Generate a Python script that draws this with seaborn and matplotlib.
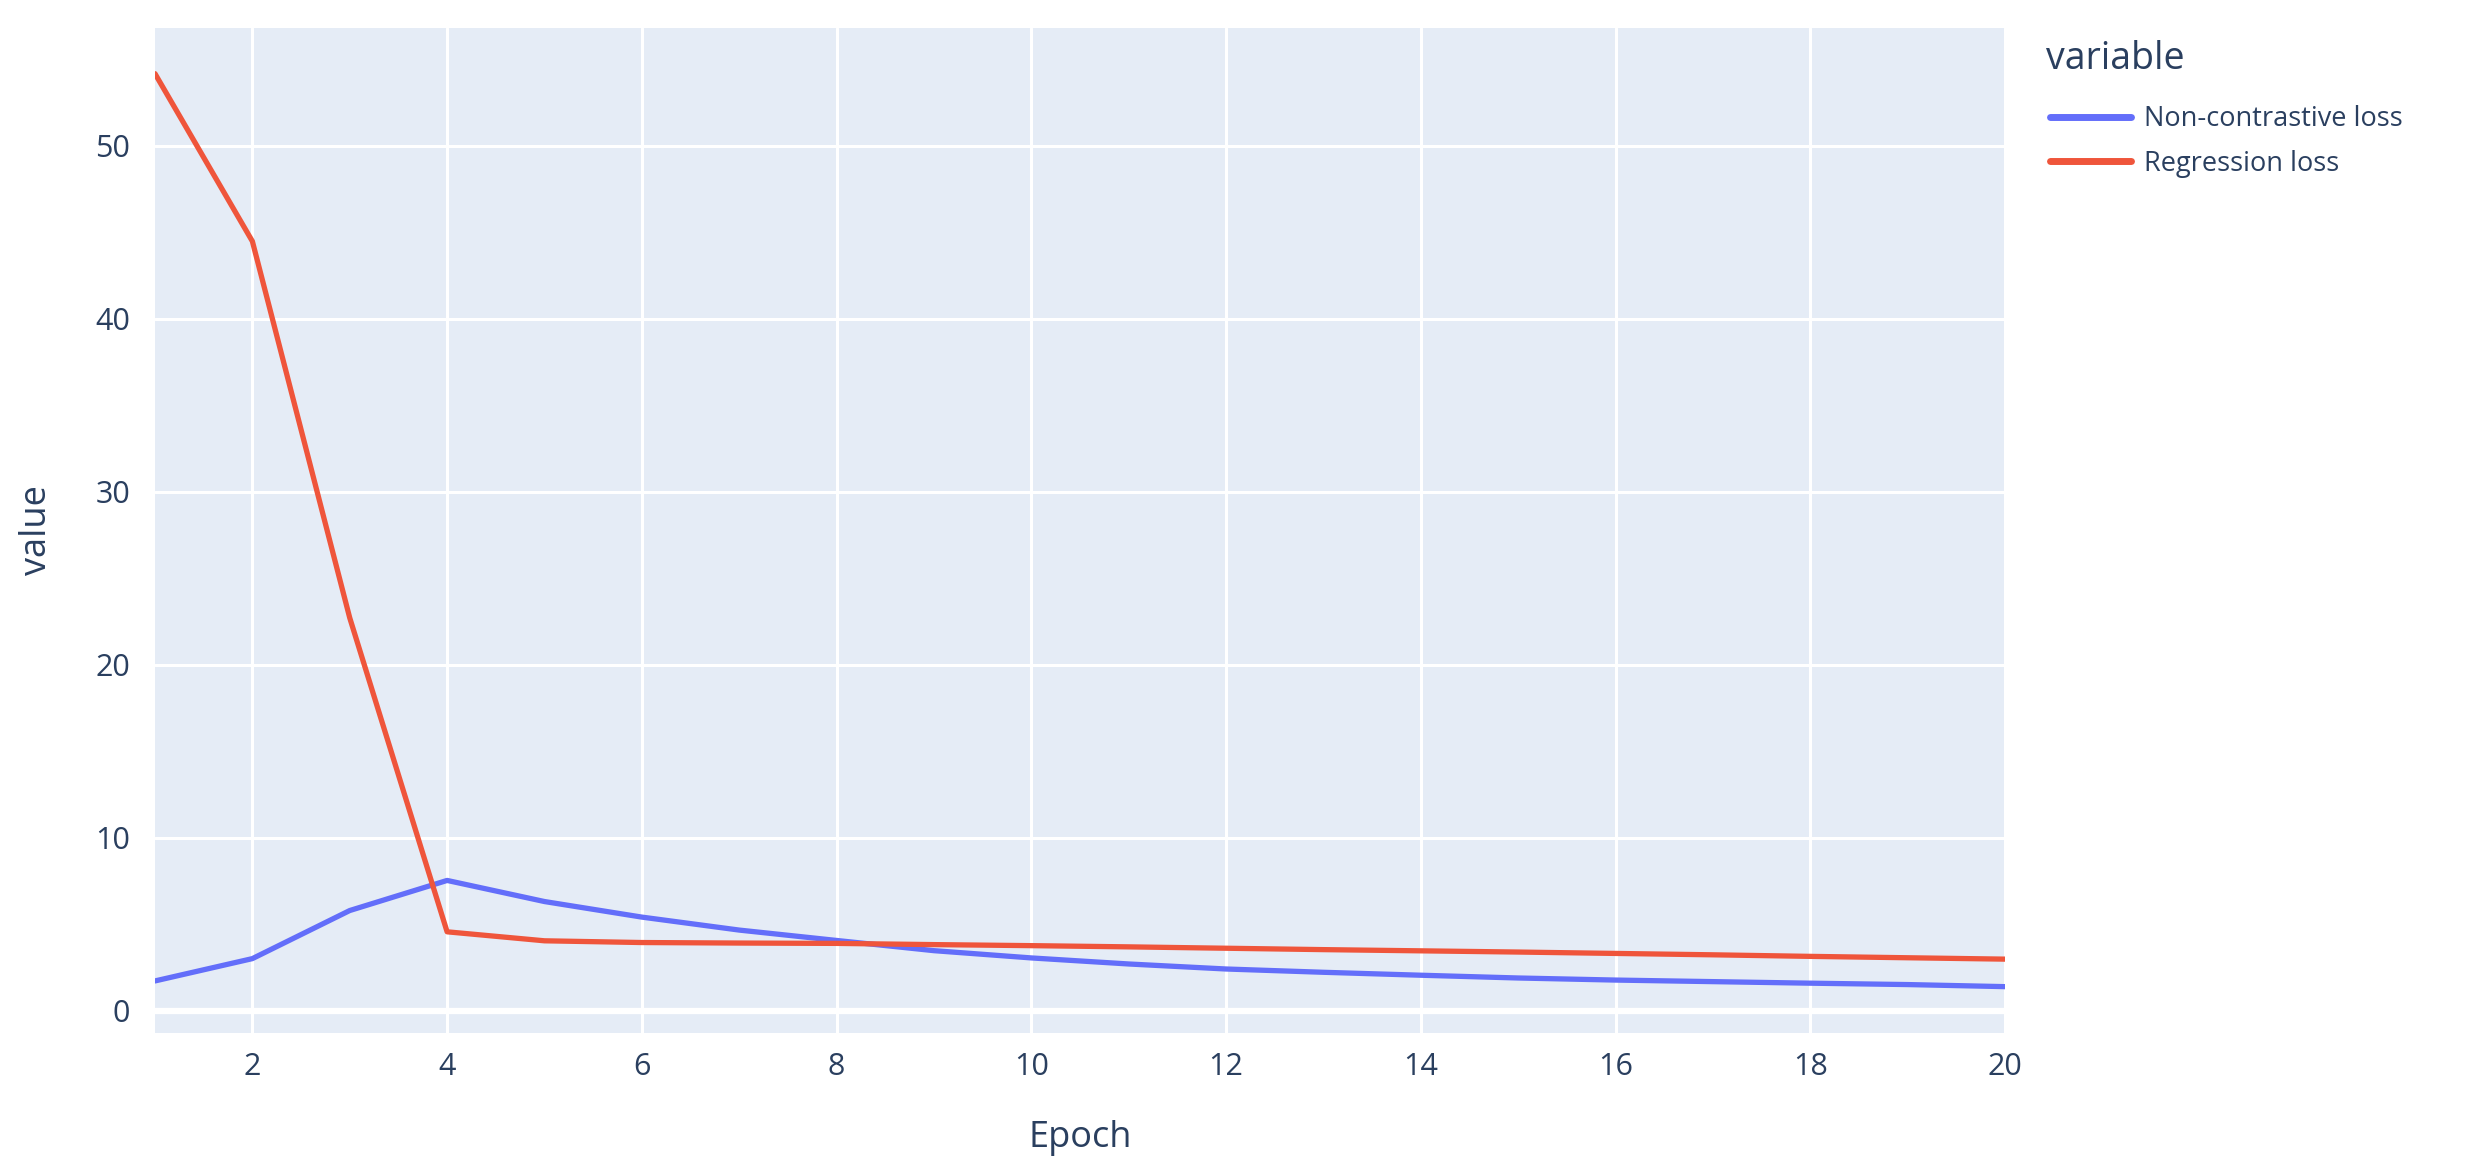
import matplotlib
matplotlib.use("Agg")
import matplotlib.pyplot as plt
from matplotlib.lines import Line2D
import numpy as np
import pandas as pd
import seaborn as sns

epochs = list(range(1, 21))
non_contrastive_loss = [1.71, 3.00, 5.78, 7.52, 6.30, 5.40, 4.65, 4.05, 3.46, 3.04,
                        2.69, 2.40, 2.21, 2.04, 1.88, 1.76, 1.67, 1.58, 1.50, 1.38]
regression_loss = [54.16, 44.47, 22.7, 4.55, 4.03, 3.93, 3.90, 3.88, 3.81, 3.75,
                   3.68, 3.60, 3.52, 3.45, 3.38, 3.30, 3.22, 3.13, 3.05, 2.97]
series_names = ["Non-contrastive loss", "Regression loss"]
series_colors = ["#636efa", "#EF553B"]
x_ticks = [2, 4, 6, 8, 10, 12, 14, 16, 18, 20]
y_ticks = [0, 10, 20, 30, 40, 50]

df = pd.DataFrame({
    "Epoch": epochs * 2,
    "value": non_contrastive_loss + regression_loss,
    "variable": [series_names[0]] * len(epochs) + [series_names[1]] * len(epochs),
})

sns.set_theme(style="darkgrid")
plt.rcParams["font.family"] = ["Open Sans", "DejaVu Sans"]
txt = "#2a3f5f"

W, H = 2485, 1170
fig = plt.figure(figsize=(W / 100, H / 100), dpi=100)
fig.patch.set_facecolor("white")
left, right, top, bottom = 155, 2005, 28, 1033
ax = fig.add_axes([left / W, 1 - bottom / H, (right - left) / W, (bottom - top) / H])
ax.set_facecolor("#E5ECF6")

sns.lineplot(data=df, x="Epoch", y="value", hue="variable",
             palette=series_colors, linewidth=3.8, ax=ax, legend=False,
             zorder=3)

ax.set_xlim(1, 20)
ax.set_ylim(-1.3, 56.8)
ax.set_xticks(x_ticks)
ax.set_yticks(y_ticks)
ax.grid(True, color="white", linewidth=2.2)
ax.axhline(0, color="white", linewidth=4.5, zorder=1.5)
for s in ax.spines.values():
    s.set_visible(False)
ax.tick_params(axis="both", length=0, labelsize=22, colors=txt)
ax.tick_params(axis="x", pad=14)
ax.tick_params(axis="y", pad=18)
ax.set_xlabel("Epoch", fontsize=26, color=txt, labelpad=27)
ax.set_ylabel("value", fontsize=26, color=txt, labelpad=29)

fig.text(2046 / W, 1 - 59 / H, "variable", fontsize=27, color=txt,
         ha="left", va="center")
handles = [Line2D([0], [0], color=c, lw=5) for c in series_colors]
leg = fig.legend(handles, series_names, loc="upper left",
                 bbox_to_anchor=(2050 / W, 1 - 105 / H), frameon=False,
                 fontsize=19.5, handlelength=3.0, handletextpad=0.47,
                 labelspacing=0.62, borderpad=0, borderaxespad=0)
for t in leg.get_texts():
    t.set_color(txt)

fig.savefig("out.png", dpi=100)
